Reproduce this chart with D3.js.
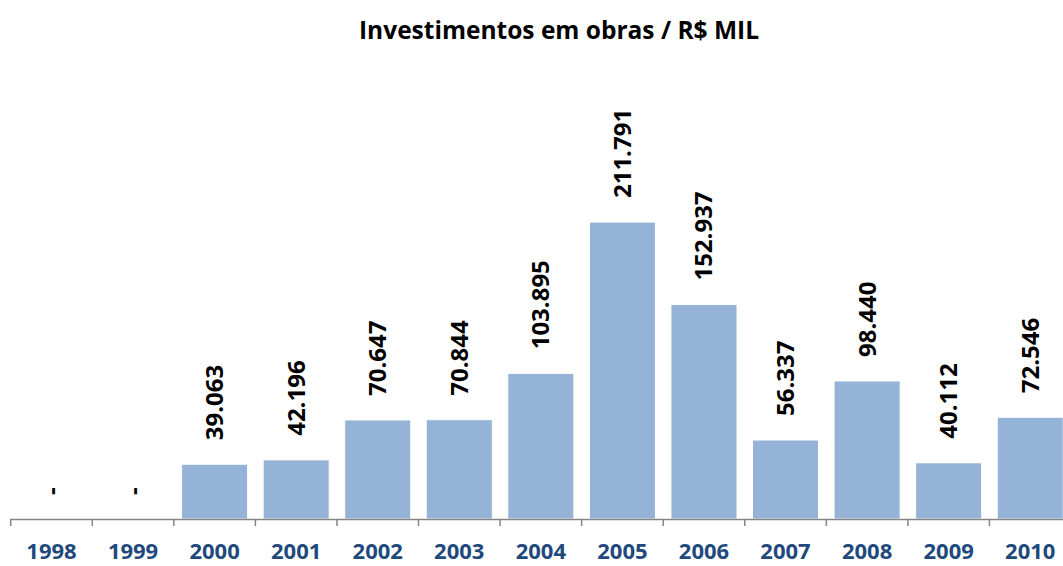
<!DOCTYPE html>
<html>
<head>
<meta charset="utf-8">
<script src="https://cdn.jsdelivr.net/npm/d3@7"></script>
<style>
  body { margin: 0; background: #fff; }
  svg { display: block; font-family: "Open Sans", "Noto Sans", sans-serif; }
</style>
</head>
<body>
<svg id="chart" width="1063" height="566"></svg>
<script>
// dados
const years = ["1998","1999","2000","2001","2002","2003","2004","2005","2006","2007","2008","2009","2010"];
const values = [0, 0, 39.063, 42.196, 70.647, 70.844, 103.895, 211.791, 152.937, 56.337, 98.440, 40.112, 72.546];
const labels = ["-", "-", "39.063", "42.196", "70.647", "70.844", "103.895", "211.791", "152.937", "56.337", "98.440", "40.112", "72.546"];

const svg = d3.select("#chart");
const baseY = 519;

const x = d3.scaleBand().domain(years).range([10.7, 1071]).paddingInner(0.19).paddingOuter(0.095);
const y = d3.scaleLinear().domain([0, 250]).range([baseY, baseY - 350.5]);

const data = years.map((d, i) => ({year: d, value: values[i], label: labels[i]}));

svg.append("text")
  .attr("x", 559).attr("y", 39)
  .attr("text-anchor", "middle")
  .attr("font-size", 24.5).attr("font-weight", 700)
  .attr("fill", "#000")
  .text("Investimentos em obras / R$ MIL");

// barras
svg.selectAll("rect.bar")
  .data(data.filter(d => d.value > 0))
  .join("rect")
  .attr("class", "bar")
  .attr("x", d => x(d.year))
  .attr("y", d => y(d.value))
  .attr("width", x.bandwidth())
  .attr("height", d => baseY - y(d.value))
  .attr("fill", "#95B3D7")
  .attr("stroke", "#fff")
  .attr("stroke-width", 1);

// eixo x
const step = x.step();
const tickX = years.map((d, i) => 10.7 + i * step);
tickX.push(10.7 + years.length * step);
svg.append("line")
  .attr("x1", 10.7).attr("x2", 1063)
  .attr("y1", baseY + 0.5).attr("y2", baseY + 0.5)
  .attr("stroke", "#868686").attr("stroke-width", 1.5);
svg.selectAll("line.tick")
  .data(tickX)
  .join("line")
  .attr("class", "tick")
  .attr("x1", d => d).attr("x2", d => d)
  .attr("y1", baseY).attr("y2", baseY + 7)
  .attr("stroke", "#868686").attr("stroke-width", 1.5);

svg.selectAll("text.cat")
  .data(data)
  .join("text")
  .attr("class", "cat")
  .attr("x", d => x(d.year) + x.bandwidth() / 2)
  .attr("y", 559)
  .attr("text-anchor", "middle")
  .attr("font-size", 22).attr("font-weight", 700)
  .attr("fill", "#1F497D")
  .text(d => d.year);

// rotulos
svg.selectAll("text.val")
  .data(data)
  .join("text")
  .attr("class", "val")
  .attr("transform", d => `translate(${x(d.year) + x.bandwidth() / 2 + 8.5},${y(d.value) - 24}) rotate(-90)`)
  .attr("font-size", 24).attr("font-weight", 700)
  .attr("fill", "#000")
  .text(d => d.label);
</script>
</body>
</html>
